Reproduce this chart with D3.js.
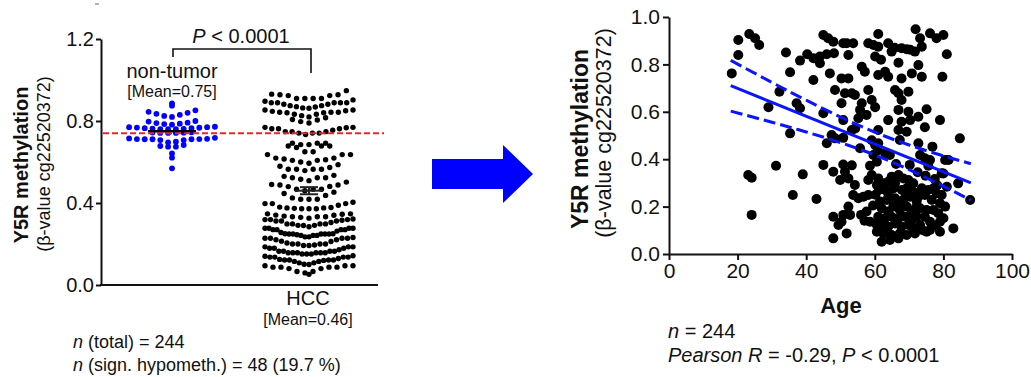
<!DOCTYPE html>
<html>
<head>
<meta charset="utf-8">
<script src="https://cdn.jsdelivr.net/npm/d3@7"></script>
<style>
  body { margin: 0; background: #fff; }
  svg text { font-family: "Liberation Sans", Arial, Helvetica, sans-serif; fill: #111; }
</style>
</head>
<body>
<div id="app"></div>
<script>
// ---- data ----
const groups = ["non-tumor", "HCC"];
const groupMeans = [0.75, 0.46];
const cutoff = 0.74;

const nonTumor = [
  0.875, 0.886,
  0.852, 0.845, 0.840, 0.835, 0.830, 0.825, 0.820,
  0.800, 0.797, 0.792, 0.790, 0.787, 0.785, 0.782,
  0.772, 0.770, 0.770, 0.768, 0.767, 0.765, 0.765, 0.763, 0.762, 0.760, 0.760, 0.760,
  0.745, 0.744, 0.743, 0.742, 0.742, 0.742,
  0.718, 0.715, 0.713, 0.712, 0.712, 0.711, 0.711, 0.711, 0.707, 0.707, 0.699, 0.696,
  0.683, 0.678, 0.675, 0.675,
  0.642, 0.621,
  0.569
];

// HCC samples (n = 244): age and beta value, same samples in both panels
const ages = [
  20.2, 23.4, 25.1, 26.3, 20.2, 18.3, 34.1, 35.3, 38.2, 40.3,
  42.1, 44.0, 46.0, 48.1, 44.0, 42.1, 46.9, 48.4, 50.3, 45.0,
  46.4, 47.9, 50.8, 52.3, 32.2, 29.0, 37.2, 38.2, 35.3, 45.0,
  47.4, 50.3, 51.3, 50.8, 71.9, 76.1, 78.0, 80.0, 73.2, 73.7,
  81.0, 61.0, 58.1, 59.6, 61.0, 63.9, 64.9, 67.8, 69.3, 71.7,
  72.7, 53.7, 51.8, 60.1, 56.2, 57.1, 66.9, 61.0, 63.0, 63.9,
  67.8, 70.8, 73.7, 79.7, 52.3, 53.3, 54.2, 58.1, 56.2, 55.7,
  59.1, 60.1, 65.9, 66.9, 69.8, 67.8, 66.9, 69.8, 75.1, 72.7,
  63.9, 79.0, 55.2, 57.6, 67.8, 70.3, 66.9, 69.3, 74.6, 84.8,
  61.0, 53.3, 23.1, 24.1, 31.2, 39.0, 45.0, 47.9, 50.8, 51.3,
  49.9, 36.1, 43.0, 24.1, 47.9, 50.3, 50.8, 49.4, 47.9, 51.8,
  46.0, 48.4, 67.3, 72.7, 76.8, 55.7, 60.1, 61.0, 59.6, 60.6,
  63.0, 64.4, 73.2, 74.6, 76.1, 80.5, 80.0, 75.6, 84.3, 87.8,
  53.3, 52.3, 54.2, 53.7, 58.6, 58.1, 59.1, 61.0, 60.6, 55.2,
  56.7, 58.1, 52.3, 52.8, 57.6, 58.6, 64.9, 66.9, 68.3, 69.8,
  71.2, 67.9, 65.4, 63.0, 73.7, 75.6, 77.1, 78.0, 74.6, 76.6,
  79.5, 79.0, 80.5, 61.5, 63.5, 65.9, 68.3, 70.3, 72.2, 62.0,
  63.9, 65.4, 67.3, 69.3, 70.8, 73.2, 75.1, 77.1, 78.5, 74.6,
  76.1, 79.0, 80.0, 61.0, 63.0, 64.9, 66.9, 68.8, 70.8, 72.2,
  62.0, 63.9, 65.9, 67.8, 69.8, 71.2, 73.2, 60.6, 62.5, 64.9,
  67.3, 69.3, 71.7, 62.0, 64.4, 66.9, 75.1, 76.1, 82.9, 79.0,
  63.9, 65.9, 62.5, 69.3, 71.2, 72.7, 81.0, 81.5, 79.5, 50.8,
  54.3, 61.8, 65.8, 70.3, 59.1, 60.8, 66.2, 70.2, 72.5, 74.8,
  77.5, 78.2, 60.2, 61.2, 59.5, 57.0, 56.0, 60.5, 74.0, 77.8,
  72.0, 66.5, 69.0, 64.0
];
const betas = [
  .903, .928, .910, .882, .840, .762, .850, .767, .816, .843,
  .826, .833, .843, .847, .805, .734, .762, .692, .741, .924,
  .910, .896, .889, .840, .685, .619, .636, .615, .509, .594,
  .502, .636, .678, .565, .948, .931, .910, .924, .910, .875,
  .843, .928, .889, .882, .875, .889, .854, .868, .864, .854,
  .797, .889, .889, .833, .790, .769, .807, .755, .769, .748,
  .741, .762, .748, .748, .741, .678, .671, .692, .636, .608,
  .650, .619, .692, .678, .685, .650, .608, .600, .611, .579,
  .565, .565, .573, .587, .558, .565, .523, .516, .535, .488,
  .523, .523, .333, .322, .372, .336, .376, .347, .378, .347,
  .312, .249, .232, .165, .157, .136, .165, .122, .066, .087,
  .467, .488, .481, .467, .453, .446, .460, .467, .418, .389,
  .425, .418, .418, .404, .397, .397, .340, .372, .298, .228,
  .374, .319, .291, .249, .372, .312, .333, .319, .291, .235,
  .242, .249, .200, .165, .179, .136, .326, .333, .319, .312,
  .298, .270, .277, .270, .277, .270, .277, .256, .249, .228,
  .249, .214, .200, .221, .228, .235, .228, .242, .221, .193,
  .179, .200, .186, .200, .179, .193, .186, .186, .172, .157,
  .136, .136, .151, .157, .151, .157, .151, .157, .143, .157,
  .122, .115, .129, .115, .122, .108, .122, .094, .087, .080,
  .087, .080, .087, .052, .059, .066, .094, .101, .108, .094,
  .305, .298, .298, .277, .263, .242, .284, .397, .341, .490,
  .530, .820, .870, .862, .480, .437, .380, .376, .345, .330,
  .316, .290, .250, .270, .205, .140, .165, .125, .100, .120,
  .195, .212, .245, .250
];

// regression line and 95% band, read at a few ages
const fitLine = [[18, 0.71], [88, 0.30]];
const ciUpper = [[18, .817], [30, .724], [40, .649], [50, .578], [60, .514], [70, .460], [80, .414], [88, .381]];
const ciLower = [[18, .603], [30, .556], [40, .515], [50, .470], [60, .418], [70, .356], [80, .286], [88, .227]];

const leftTicks = [0, 0.4, 0.8, 1.2];
const rightYTicks = [0, 0.2, 0.4, 0.6, 0.8, 1.0];
const rightXTicks = [0, 20, 40, 60, 80, 100];

// ---- chart ----
const svg = d3.select("#app").append("svg").attr("width", 1031).attr("height", 377);
const FONT = '"Liberation Sans", Arial, Helvetica, sans-serif';

const styleAxis = (g, size) => {
  g.attr("font-size", size).attr("font-family", FONT).attr("color", "#111");
  g.selectAll("path, line").attr("stroke-width", 2);
};

/* left panel: dot plot */
const yL = d3.scaleLinear().domain([0, 1.2]).range([285, 39]);
const xL = d3.scalePoint().domain(groups).range([172, 309]);

svg.append("g")
  .attr("transform", "translate(101,0)")
  .call(d3.axisLeft(yL).tickValues(leftTicks).tickFormat(d3.format(".1f")).tickSize(5).tickPadding(2).tickSizeOuter(0))
  .call(g => styleAxis(g, 20));

svg.append("line")
  .attr("x1", 100).attr("x2", 378).attr("y1", 285).attr("y2", 285)
  .attr("stroke", "#111").attr("stroke-width", 2);

// rows split where values jump (small groups)
function rowsByGap(values, gap, maxH) {
  const pts = values.map(v => ({ v, y: yL(v) })).sort((a, b) => a.y - b.y);
  const rows = [];
  let cur = null;
  pts.forEach(p => {
    if (!cur || p.y - cur.last > gap || p.y - cur.start > maxH) {
      cur = { start: p.y, last: p.y, items: [] };
      rows.push(cur);
    }
    cur.items.push(p);
    cur.last = p.y;
  });
  return rows.map(r => r.items);
}

// fixed pixel bins (large groups)
function rowsByBin(values, binPx, y0) {
  const g = d3.group(values.map(v => ({ v, y: yL(v) })), p => Math.floor((p.y - y0) / binPx));
  return Array.from(g.values());
}

// GraphPad-like placement: lowest value in the middle of the row
function placeRows(rows, cx, step, maxW) {
  const out = [];
  rows.forEach(row => {
    const items = row.slice().sort((a, b) => a.v - b.v);
    const n = items.length;
    const s = n > 1 ? Math.min(step, maxW / (n - 1)) : 0;
    const slots = d3.range(n).map(i => (i - (n - 1) / 2) * s)
      .sort((a, b) => Math.abs(a) - Math.abs(b) || a - b);
    items.forEach((p, i) => out.push({ v: p.v, x: cx + slots[i] }));
  });
  return out;
}

const ntPts = placeRows(rowsByGap(nonTumor, 1.8, 9), xL("non-tumor"), 7.8, 86);
const hccPts = placeRows(rowsByBin(betas, 9.2, 90), xL("HCC"), 8.3, 88);

svg.append("g").selectAll("circle").data(hccPts).join("circle")
  .attr("cx", d => d.x).attr("cy", d => yL(d.v)).attr("r", 2.7).attr("fill", "#000");

svg.append("g").selectAll("circle").data(ntPts).join("circle")
  .attr("cx", d => d.x).attr("cy", d => yL(d.v)).attr("r", 2.9).attr("fill", "#0000ff");

// mean lines (+ SEM for HCC)
svg.append("line")
  .attr("x1", xL("non-tumor") - 24).attr("x2", xL("non-tumor") + 24)
  .attr("y1", yL(groupMeans[0])).attr("y2", yL(groupMeans[0]))
  .attr("stroke", "#000").attr("stroke-width", 2.5);

const sem = d3.deviation(betas) / Math.sqrt(betas.length);
const hx = xL("HCC");
const meanG = svg.append("g").attr("stroke", "#222").attr("stroke-width", 2);
meanG.append("line").attr("x1", hx - 14).attr("x2", hx + 14)
  .attr("y1", yL(groupMeans[1])).attr("y2", yL(groupMeans[1]));
[-1, 1].forEach(k => {
  meanG.append("line").attr("x1", hx - 9).attr("x2", hx + 9)
    .attr("y1", yL(groupMeans[1] + k * sem)).attr("y2", yL(groupMeans[1] + k * sem));
});
meanG.append("line").attr("x1", hx).attr("x2", hx)
  .attr("y1", yL(groupMeans[1] + sem)).attr("y2", yL(groupMeans[1] - sem));

// cutoff line
svg.append("line")
  .attr("x1", 103).attr("x2", 384).attr("y1", yL(cutoff)).attr("y2", yL(cutoff))
  .attr("stroke", "#e8262a").attr("stroke-width", 2).attr("stroke-dasharray", "6,3");

// significance bracket
svg.append("path")
  .attr("d", `M${xL("non-tumor") + 1},57V49H${hx + 2}V73`)
  .attr("fill", "none").attr("stroke", "#111").attr("stroke-width", 1.6);

svg.append("line").attr("x1", 95).attr("x2", 99).attr("y1", 4).attr("y2", 4)
  .attr("stroke", "#666").attr("stroke-width", 1);

const pText = svg.append("text").attr("x", 241).attr("y", 43).attr("text-anchor", "middle").attr("font-size", 20);
pText.append("tspan").attr("font-style", "italic").text("P");
pText.append("tspan").text(" < 0.0001");

svg.append("text").attr("x", xL("non-tumor")).attr("y", 78).attr("text-anchor", "middle")
  .attr("font-size", 20).text("non-tumor");
svg.append("text").attr("x", xL("non-tumor")).attr("y", 97).attr("text-anchor", "middle")
  .attr("font-size", 16).text("[Mean=0.75]");
svg.append("text").attr("x", hx - 1).attr("y", 305).attr("text-anchor", "middle")
  .attr("font-size", 20).text("HCC");
svg.append("text").attr("x", hx - 1).attr("y", 325).attr("text-anchor", "middle")
  .attr("font-size", 16).text("[Mean=0.46]");

svg.append("text").attr("transform", "translate(28,165) rotate(-90)").attr("text-anchor", "middle")
  .attr("font-size", 20).attr("font-weight", "bold").text("Y5R methylation");
svg.append("text").attr("transform", "translate(50,164) rotate(-90)").attr("text-anchor", "middle")
  .attr("font-size", 18).text("(β-value cg22520372)");

const n1 = svg.append("text").attr("x", 73).attr("y", 348).attr("font-size", 18);
n1.append("tspan").attr("font-style", "italic").text("n");
n1.append("tspan").text(" (total) = 244");
const n2 = svg.append("text").attr("x", 73).attr("y", 371).attr("font-size", 18);
n2.append("tspan").attr("font-style", "italic").text("n");
n2.append("tspan").text(" (sign. hypometh.) = 48 (19.7 %)");

/* arrow */
svg.append("polygon")
  .attr("points", "432,159 503,159 503,145 533,174 503,203 503,189 432,189")
  .attr("fill", "#0000ff");

/* right panel: scatter vs age */
const xR = d3.scaleLinear().domain([0, 100]).range([669, 1012]);
const yR = d3.scaleLinear().domain([0, 1]).range([254, 17]);

svg.append("g")
  .attr("transform", "translate(669,0)")
  .call(d3.axisLeft(yR).tickValues(rightYTicks).tickFormat(d3.format(".1f")).tickSize(6).tickPadding(3).tickSizeOuter(0))
  .call(g => styleAxis(g, 21));

svg.append("g")
  .attr("transform", "translate(0,254)")
  .call(d3.axisBottom(xR).tickValues(rightXTicks).tickSize(6).tickPadding(3).tickSizeOuter(0))
  .call(g => styleAxis(g, 21));

const scatter = ages.map((a, i) => ({ age: a, beta: betas[i] }));
svg.append("g").selectAll("circle").data(scatter).join("circle")
  .attr("cx", d => xR(d.age)).attr("cy", d => yR(d.beta)).attr("r", 5).attr("fill", "#000");

const line = d3.line().x(d => xR(d[0])).y(d => yR(d[1]));
const curved = d3.line().x(d => xR(d[0])).y(d => yR(d[1])).curve(d3.curveNatural);

svg.append("path").attr("d", line(fitLine))
  .attr("fill", "none").attr("stroke", "#0a14ff").attr("stroke-width", 3);
[ciUpper, ciLower].forEach(band => {
  svg.append("path").attr("d", curved(band))
    .attr("fill", "none").attr("stroke", "#0a14ff").attr("stroke-width", 3)
    .attr("stroke-dasharray", "12,5");
});

svg.append("text").attr("transform", "translate(588,139) rotate(-90)").attr("text-anchor", "middle")
  .attr("font-size", 23).attr("font-weight", "bold").text("Y5R methylation");
svg.append("text").attr("transform", "translate(611,133) rotate(-90)").attr("text-anchor", "middle")
  .attr("font-size", 21.5).text("(β-value cg22520372)");

svg.append("text").attr("x", 841).attr("y", 313).attr("text-anchor", "middle")
  .attr("font-size", 22).attr("font-weight", "bold").text("Age");

const r1 = svg.append("text").attr("x", 668).attr("y", 338).attr("font-size", 20);
r1.append("tspan").attr("font-style", "italic").text("n");
r1.append("tspan").text(" = 244");
const r2 = svg.append("text").attr("x", 668).attr("y", 362).attr("font-size", 20);
r2.append("tspan").attr("font-style", "italic").text("Pearson R");
r2.append("tspan").text(" = -0.29, ");
r2.append("tspan").attr("font-style", "italic").text("P");
r2.append("tspan").text(" < 0.0001");
</script>
</body>
</html>
